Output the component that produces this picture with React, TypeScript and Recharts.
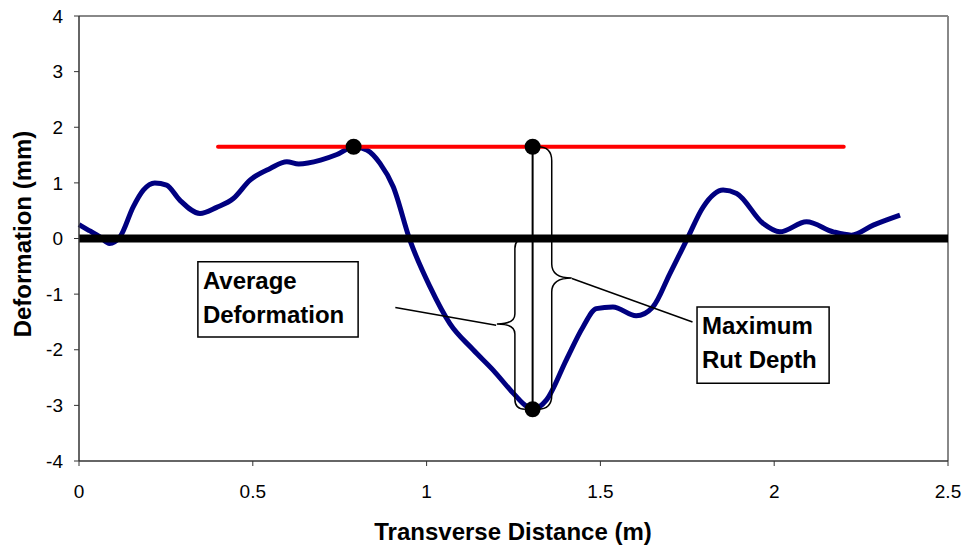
import React from 'react';
import {
    ComposedChart,
    Line,
    Scatter,
    XAxis,
    YAxis,
    ReferenceLine,
    ReferenceArea
} from 'recharts';

// transverse profile
const distance = [0, 0.03, 0.06, 0.088, 0.118, 0.156, 0.185, 0.218, 0.252, 0.29, 0.348, 0.396, 0.444, 0.492, 0.55, 0.598, 0.632, 0.695, 0.742, 0.791, 0.828, 0.866, 0.904, 0.952, 1.01, 1.067, 1.134, 1.192, 1.249, 1.288, 1.305, 1.345, 1.402, 1.45, 1.488, 1.536, 1.603, 1.651, 1.7, 1.748, 1.796, 1.853, 1.892, 1.968, 2.016, 2.093, 2.17, 2.222, 2.285, 2.362];
const deformation = [0.25, 0.14, 0.03, -0.09, 0.03, 0.57, 0.87, 1.0, 0.96, 0.69, 0.45, 0.56, 0.72, 1.05, 1.26, 1.38, 1.34, 1.41, 1.51, 1.65, 1.59, 1.35, 0.93, -0.03, -0.87, -1.53, -2.0, -2.37, -2.78, -3.02, -3.07, -2.9, -2.18, -1.59, -1.26, -1.23, -1.39, -1.23, -0.63, -0.03, 0.57, 0.87, 0.81, 0.27, 0.12, 0.3, 0.12, 0.06, 0.24, 0.42];

// marked points: peak, top of rut gauge, bottom of rut
const markerX = [0.79, 1.305, 1.305];
const markerY = [1.65, 1.65, -3.07];

const peakLevel = 1.65;
const peakLineStart = 0.4;
const peakLineEnd = 2.2;
const rutX = 1.305;
const rutBottom = -3.07;

const xTicks = [0, 0.5, 1, 1.5, 2, 2.5];
const yTicks = [-4, -3, -2, -1, 0, 1, 2, 3, 4];

const FONT = '"Liberation Sans", Arial, sans-serif';

const curve = distance.map((d, i) => ({ distance: d, deformation: deformation[i] }));
const markers = markerX.map((d, i) => ({ distance: d, deformation: markerY[i] }));

// curly brace drawn along a vertical segment, tip pointing left (dir=-1) or right (dir=1)
const brace = (dir: number, r: number, depth: number) => (props: any) => {
    const { x1, y1, y2 } = props;
    const x = x1;
    const top = Math.min(y1, y2);
    const bot = Math.max(y1, y2);
    const m = (top + bot) / 2;
    const d = `M ${x - dir * r} ${top} Q ${x} ${top} ${x} ${top + r} L ${x} ${m - r} Q ${x} ${m} ${x + dir * depth} ${m} Q ${x} ${m} ${x} ${m + r} L ${x} ${bot - r} Q ${x} ${bot} ${x - dir * r} ${bot}`;
    return <path d={d} fill="none" stroke="#000" strokeWidth={1.5} />;
};

const boxLabel = (lines: string[]) => (props: any) => {
    const { x, y } = props.viewBox;
    return (
        <text x={x + 5} y={y} fontFamily={FONT} fontWeight="bold" fontSize={24} fill="#000">
            {lines.map((l, i) => (
                <tspan key={i} x={x + 5} dy={i === 0 ? 27 : 34}>{l}</tspan>
            ))}
        </text>
    );
};

const App = () => (
    <div style={{ position: 'absolute', left: 0, top: 0, background: '#fff' }}>
        <ComposedChart width={966} height={550} margin={{ top: 16, right: 18, left: 0, bottom: 0 }}>
            <XAxis
                dataKey="distance"
                type="number"
                domain={[0, 2.5]}
                ticks={xTicks}
                height={89}
                tickSize={5}
                tickMargin={19}
                axisLine={{ stroke: '#333', strokeWidth: 1.5 }}
                tickLine={{ stroke: '#333' }}
                tick={{ fontSize: 19, fill: '#000', fontFamily: FONT }}
                label={{
                    content: () => (
                        <text x={513} y={540} textAnchor="middle" fontFamily={FONT} fontWeight="bold" fontSize={24} fill="#000">
                            Transverse Distance (m)
                        </text>
                    )
                }}
            />
            <YAxis
                dataKey="deformation"
                type="number"
                domain={[-4, 4]}
                ticks={yTicks}
                width={79}
                tickSize={5}
                tickMargin={11}
                axisLine={{ stroke: '#333', strokeWidth: 1.5 }}
                tickLine={{ stroke: '#333' }}
                tick={{ fontSize: 19, fill: '#000', fontFamily: FONT }}
                label={{
                    content: () => (
                        <text transform="translate(31,234) rotate(-90)" textAnchor="middle" fontFamily={FONT} fontWeight="bold" fontSize={24} fill="#000">
                            Deformation (mm)
                        </text>
                    )
                }}
            />

            {/* plot area border */}
            <ReferenceLine y={4} stroke="#888" strokeWidth={2} />
            <ReferenceLine x={2.5} stroke="#888" strokeWidth={2} />

            {/* annotation boxes */}
            <ReferenceArea x1={0.342} x2={0.803} y1={-0.42} y2={-1.77} fill="#fff" fillOpacity={1} stroke="#000" strokeWidth={1.5}
                label={{ content: boxLabel(['Average', 'Deformation']) }} />
            <ReferenceArea x1={1.778} x2={2.158} y1={-1.23} y2={-2.6} fill="#fff" fillOpacity={1} stroke="#000" strokeWidth={1.5}
                label={{ content: boxLabel(['Maximum', 'Rut Depth']) }} />

            <Line
                data={curve}
                dataKey="deformation"
                type="monotone"
                stroke="#000080"
                strokeWidth={5}
                dot={false}
                isAnimationActive={false}
            />

            <ReferenceLine y={0} stroke="#000" strokeWidth={8} />
            <ReferenceLine
                segment={[{ x: peakLineStart, y: peakLevel }, { x: peakLineEnd, y: peakLevel }]}
                stroke="#ff0000"
                strokeWidth={4}
                strokeLinecap="round"
            />
            <ReferenceLine
                segment={[{ x: rutX, y: peakLevel }, { x: rutX, y: rutBottom }]}
                stroke="#000"
                strokeWidth={2}
            />

            {/* braces and leaders */}
            <ReferenceLine segment={[{ x: 1.254, y: 0 }, { x: 1.254, y: rutBottom }]} shape={brace(-1, 10, 18)} />
            <ReferenceLine segment={[{ x: 1.36, y: peakLevel }, { x: 1.36, y: rutBottom }]} shape={brace(1, 14, 20)} />
            <ReferenceLine segment={[{ x: 0.91, y: -1.24 }, { x: 1.2, y: -1.56 }]} stroke="#000" strokeWidth={1.5} />
            <ReferenceLine segment={[{ x: 1.418, y: -0.72 }, { x: 1.765, y: -1.5 }]} stroke="#000" strokeWidth={1.5} />

            <Scatter
                data={markers}
                dataKey="deformation"
                fill="#000"
                isAnimationActive={false}
                shape={(p: any) => <circle cx={p.cx} cy={p.cy} r={8} fill="#000" />}
            />
        </ComposedChart>
    </div>
);

export default App;
